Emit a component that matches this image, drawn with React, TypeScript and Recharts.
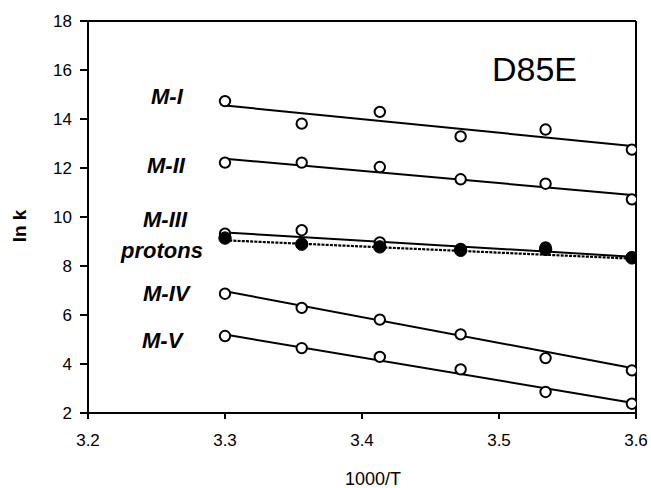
import React from 'react';
import {
  ComposedChart,
  Line,
  Scatter,
  XAxis,
  YAxis,
  ReferenceLine,
} from 'recharts';

// 1000/T values of the measurements
const xValues = [3.3, 3.356, 3.413, 3.472, 3.534, 3.597];

// ln k for each component
const mI = [14.73, 13.81, 14.29, 13.29, 13.57, 12.75];
const mII = [12.22, 12.22, 12.04, 11.54, 11.36, 10.72];
const mIII = [9.32, 9.46, 8.96, 8.7, 8.76, 8.36];
const protons = [9.14, 8.89, 8.78, 8.64, 8.68, 8.33];
const mIV = [6.87, 6.29, 5.81, 5.21, 4.24, 3.74];
const mV = [5.14, 4.65, 4.29, 3.78, 2.86, 2.38];

// fitted straight lines (values at the two ends)
const fitX = [3.3, 3.597];
const fitMI = [14.55, 12.9];
const fitMII = [12.38, 10.9];
const fitMIII = [9.37, 8.38];
const fitProtons = [9.05, 8.3];
const fitMIV = [6.97, 3.84];
const fitMV = [5.2, 2.42];

const xTicks = [3.2, 3.3, 3.4, 3.5, 3.6];
const yTicks = [2, 4, 6, 8, 10, 12, 14, 16, 18];

const toPts = (ys: number[]) => xValues.map((x, i) => ({ x, y: ys[i] }));
const toFit = (ys: number[]) => fitX.map((x, i) => ({ x, y: ys[i] }));

const FONT = '"Liberation Sans", Arial, sans-serif';

const OpenDot = (props: any) => {
  const { cx, cy } = props;
  if (cx == null || cy == null) return null;
  return <circle cx={cx} cy={cy} r={5.2} fill="#fff" stroke="#000" strokeWidth={2} />;
};

const FilledDot = (props: any) => {
  const { cx, cy } = props;
  if (cx == null || cy == null) return null;
  return <circle cx={cx} cy={cy} r={6.2} fill="#000" stroke="#000" strokeWidth={1} />;
};

const labelStyle: React.CSSProperties = {
  fontFamily: FONT,
  fontWeight: 'bold',
  fontStyle: 'italic',
  fontSize: 22,
};

export default function App() {
  const solidFits = [fitMI, fitMII, fitMIII, fitMIV, fitMV];
  const openSeries = [mI, mII, mIII, mIV, mV];
  return (
    <div style={{ position: 'absolute', left: 0, top: 0, width: 651, height: 488, background: '#fff' }}>
      <ComposedChart
        width={651}
        height={488}
        margin={{ top: 21, right: 15, bottom: 0, left: 0 }}
      >
        <XAxis
          dataKey="x"
          type="number"
          domain={[3.2, 3.6]}
          ticks={xTicks}
          allowDataOverflow
          height={75}
          tickSize={6}
          tickMargin={15}
          tickFormatter={(v: number) => v.toFixed(1)}
          axisLine={{ stroke: '#000', strokeWidth: 2 }}
          tickLine={{ stroke: '#000', strokeWidth: 2 }}
          tick={{ fill: '#000', fontSize: 17, fontFamily: FONT }}
        />
        <YAxis
          dataKey="y"
          type="number"
          domain={[2, 18]}
          ticks={yTicks}
          allowDataOverflow
          width={88}
          tickSize={8}
          tickMargin={8}
          axisLine={{ stroke: '#000', strokeWidth: 2 }}
          tickLine={{ stroke: '#000', strokeWidth: 2 }}
          tick={{ fill: '#000', fontSize: 17, fontFamily: FONT }}
        />
        <ReferenceLine y={18} stroke="#000" strokeWidth={2} />
        <ReferenceLine x={3.6} stroke="#000" strokeWidth={2} />
        {solidFits.map((f, i) => (
          <Line
            key={'fit' + i}
            data={toFit(f)}
            dataKey="y"
            type="linear"
            stroke="#000"
            strokeWidth={2}
            dot={false}
            activeDot={false}
            isAnimationActive={false}
          />
        ))}
        <Line
          data={toFit(fitProtons)}
          dataKey="y"
          type="linear"
          stroke="#000"
          strokeWidth={2.2}
          strokeDasharray="3 1.2"
          dot={false}
          activeDot={false}
          isAnimationActive={false}
        />
        {openSeries.map((s, i) => (
          <Scatter
            key={'open' + i}
            data={toPts(s)}
            dataKey="y"
            shape={OpenDot}
            isAnimationActive={false}
          />
        ))}
        <Scatter data={toPts(protons)} dataKey="y" shape={FilledDot} isAnimationActive={false} />
      </ComposedChart>
      <svg
        width={651}
        height={488}
        style={{ position: 'absolute', left: 0, top: 0, pointerEvents: 'none' }}
      >
        <text x={151} y={104} style={labelStyle}>M-I</text>
        <text x={147} y={173} style={labelStyle}>M-II</text>
        <text x={143} y={227} style={labelStyle}>M-III</text>
        <text x={121} y={258} style={labelStyle}>protons</text>
        <text x={143} y={301} style={labelStyle}>M-IV</text>
        <text x={142} y={348} style={labelStyle}>M-V</text>
        <text x={492} y={81} style={{ fontFamily: FONT, fontSize: 34 }}>D85E</text>
        <text x={373} y={485} textAnchor="middle" style={{ fontFamily: FONT, fontSize: 18 }}>1000/T</text>
        <text
          x={0}
          y={0}
          textAnchor="middle"
          transform="translate(26 226) rotate(-90)"
          style={{ fontFamily: FONT, fontSize: 19, fontWeight: 'bold' }}
        >
          ln k
        </text>
      </svg>
    </div>
  );
}
